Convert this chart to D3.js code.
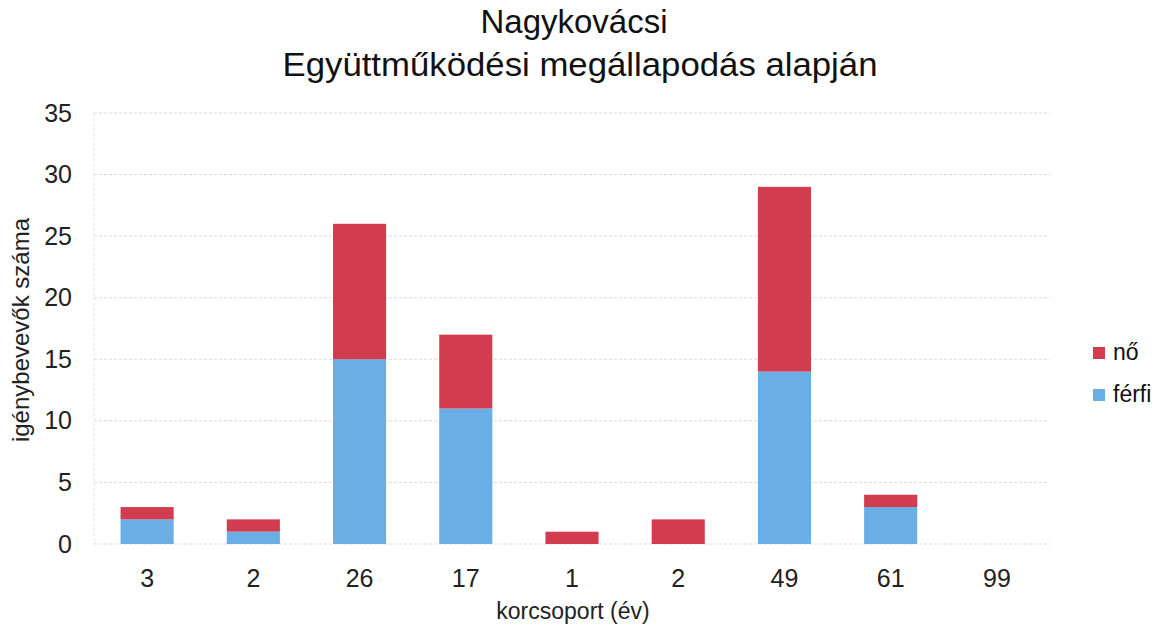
<!DOCTYPE html>
<html><head><meta charset="utf-8">
<script src="https://cdn.jsdelivr.net/npm/d3@7"></script>
<style>body{margin:0;background:#fff;}svg{display:block;font-family:"Liberation Sans",Arial,sans-serif;}</style>
</head><body>
<svg id="c" width="1167" height="629"></svg>
<script>
const categories = ["3","2","26","17","1","2","49","61","99"];
const ferfi = [2,1,15,11,0,0,14,3,0];
const no = [1,1,11,6,1,2,15,1,0];
const yTicks = [0,5,10,15,20,25,30,35];
const seriesNames = ["férfi","nő"];
const colors = {"férfi":"#6aaee6","nő":"#d13d4f"};

const svg = d3.select("#c");
const m = {l:94, r:117, t:113, b:85};
const W = 1167, H = 629;
const x = d3.scaleBand().domain(d3.range(categories.length)).range([m.l, W-m.r]).paddingInner(0.5).paddingOuter(0.25);
const y = d3.scaleLinear().domain([0,35]).range([H-m.b, m.t]);

// grid
svg.append("g").selectAll("line").data(yTicks).join("line")
  .attr("x1", m.l).attr("x2", W-m.r)
  .attr("y1", d=>y(d)).attr("y2", d=>y(d))
  .attr("stroke", "#d9d9e0").attr("stroke-width", 1).attr("stroke-dasharray","3,2");
svg.append("line").attr("x1",m.l).attr("x2",m.l).attr("y1",m.t).attr("y2",H-m.b)
  .attr("stroke","#e4e4e8").attr("stroke-dasharray","3,2");

// stacks
const data = categories.map((c,i)=>({i, "férfi":ferfi[i], "nő":no[i]}));
const stack = d3.stack().keys(seriesNames)(data);
svg.append("g").selectAll("g").data(stack).join("g")
  .attr("fill", d=>colors[d.key])
  .selectAll("rect").data(d=>d).join("rect")
  .attr("x", d=>x(d.data.i)).attr("width", x.bandwidth())
  .attr("y", d=>y(d[1])).attr("height", d=>y(d[0])-y(d[1]));

// y axis
const ya = svg.append("g").attr("transform",`translate(${m.l},0)`)
  .call(d3.axisLeft(y).tickValues(yTicks).tickSize(0).tickPadding(22));
ya.select(".domain").remove();
ya.selectAll("text").attr("font-size",25).attr("fill","#222").attr("font-family","Liberation Sans, Arial, sans-serif");

// x axis
const xa = svg.append("g").attr("transform",`translate(0,${H-m.b})`)
  .call(d3.axisBottom(x).tickFormat(i=>categories[i]).tickSize(0).tickPadding(25));
xa.select(".domain").remove();
xa.selectAll("text").attr("font-size",25).attr("fill","#222").attr("font-family","Liberation Sans, Arial, sans-serif");

// titles
svg.append("text").attr("x",574).attr("y",33).attr("text-anchor","middle").attr("font-size",33).attr("fill","#111").text("Nagykovácsi");
svg.append("text").attr("x",580).attr("y",76).attr("text-anchor","middle").attr("font-size",33).attr("fill","#111").attr("textLength",595).attr("lengthAdjust","spacingAndGlyphs").text("Együttműködési megállapodás alapján");
svg.append("text").attr("transform","translate(29,330) rotate(-90)").attr("text-anchor","middle").attr("font-size",24).attr("fill","#222").text("igénybevevők száma");
svg.append("text").attr("x",573).attr("y",619).attr("text-anchor","middle").attr("font-size",23).attr("fill","#222").text("korcsoport (év)");

// legend
const leg = [{k:"nő",y:353},{k:"férfi",y:395}];
const lg = svg.append("g").selectAll("g").data(leg).join("g").attr("transform",d=>`translate(1093,${d.y})`);
lg.append("rect").attr("x",0).attr("y",-6).attr("width",12).attr("height",12).attr("fill",d=>colors[d.k]);
lg.append("text").attr("x",20).attr("y",7).attr("font-size",23).attr("fill","#111").text(d=>d.k);
</script>
</body></html>
